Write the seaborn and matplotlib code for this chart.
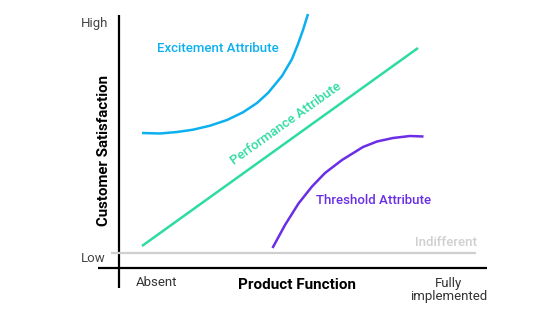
import matplotlib
matplotlib.use("Agg")
import matplotlib.pyplot as plt
import seaborn as sns

sns.set_theme(style="white")
plt.rcParams['font.family'] = ['Roboto', 'DejaVu Sans']

# Data (x: product function, y: customer satisfaction; arbitrary units)
excite_x = [23, 41, 58, 74, 91, 108, 124, 138, 149, 163, 173, 179, 184, 189]
excite_y = [135, 134.5, 136, 138.3, 142.3, 148, 155.7, 165, 175, 192, 209, 224, 238, 254]
perf_x = [23, 299]
perf_y = [22, 220]
thresh_x = [153.5, 166, 179.5, 193, 206, 223, 244, 258, 274, 291, 304.5]
thresh_y = [20, 43, 64.5, 81.5, 95, 108, 121, 126.5, 130, 132, 131.5]
indiff_x = [-8, 357]
indiff_y = [15, 15]

c_excite = "#0cb0ee"
c_perf = "#2edc9f"
c_thresh = "#6a2ee6"
c_indiff = "#cfcfcf"

fig = plt.figure(figsize=(5.6, 3.15), dpi=100)
ax = fig.add_axes([0, 0, 1, 1])
ax.set_xlim(-119, 441)
ax.set_ylim(-47, 268)
ax.axis("off")

# axes lines
ax.plot([0, 0], [-20, 253], color="black", lw=1.6, solid_capstyle="butt")
ax.plot([-21, 368], [0, 0], color="black", lw=1.6, solid_capstyle="butt")

kw = dict(ax=ax, sort=False, solid_joinstyle="round", solid_capstyle="butt")
sns.lineplot(x=indiff_x, y=indiff_y, color=c_indiff, lw=1.6, **kw)
sns.lineplot(x=perf_x, y=perf_y, color=c_perf, lw=1.8, **kw)
sns.lineplot(x=excite_x, y=excite_y, color=c_excite, lw=1.8, **kw)
sns.lineplot(x=thresh_x, y=thresh_y, color=c_thresh, lw=1.8, **kw)

fs = 9.5
ax.text(-11, 244, "High", ha="right", va="center", fontsize=fs, color="#444444")
ax.text(-13, 9, "Low", ha="right", va="center", fontsize=fs, color="#444444")
ax.text(38, -14, "Absent", ha="center", va="center", fontsize=fs, color="#333333")
ax.text(330, -22, "Fully\nimplemented", ha="center", va="center", fontsize=fs,
        color="#333333", linespacing=1.05)
ax.text(178, -17, "Product Function", ha="center", va="center", fontsize=11,
        fontweight="bold", color="black")
ax.text(-15, 118, "Customer Satisfaction", ha="center", va="center", fontsize=10.8,
        fontweight="bold", color="black", rotation=90)
ax.text(99, 220, "Excitement Attribute", ha="center", va="center", fontsize=fs,
        fontweight="medium", color=c_excite)
ax.text(255, 67, "Threshold Attribute", ha="center", va="center", fontsize=fs,
        fontweight="medium", color=c_thresh)
ax.text(327, 25, "Indifferent", ha="center", va="center", fontsize=fs,
        fontweight="medium", color=c_indiff)
ax.text(167, 144, "Performance Attribute", ha="center", va="center", fontsize=fs,
        fontweight="medium", color=c_perf, rotation=35.5, rotation_mode="anchor")

fig.savefig("out.png", dpi=100)
